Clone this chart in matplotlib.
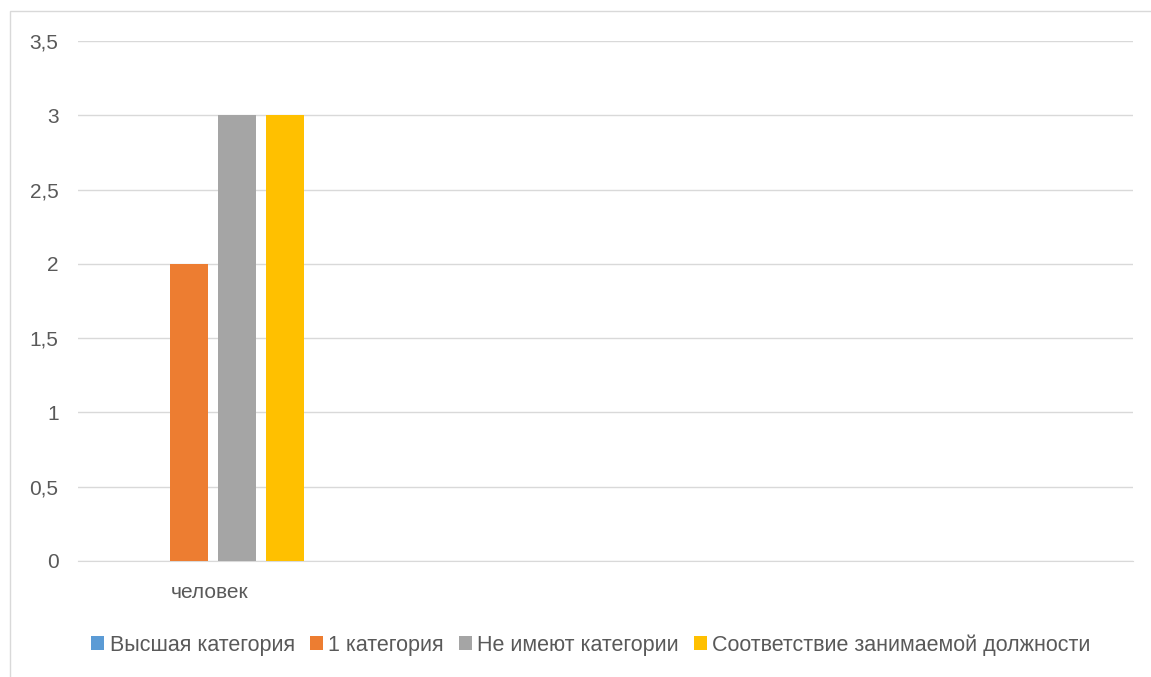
import numpy as np
import matplotlib.pyplot as plt
from matplotlib.patches import Rectangle

# данные
categories = ["человек", "", "", ""]
series_names = ["Высшая категория", "1 категория", "Не имеют категории",
                "Соответствие занимаемой должности"]
values_vysshaya = [0, 0, 0, 0]
values_1kat = [2, 0, 0, 0]
values_net = [3, 0, 0, 0]
values_sootv = [3, 0, 0, 0]
colors = ["#5b9bd5", "#ed7d31", "#a5a5a5", "#ffc000"]
yticks = [0, 0.5, 1, 1.5, 2, 2.5, 3, 3.5]
ytick_labels = ["0", "0,5", "1", "1,5", "2", "2,5", "3", "3,5"]

plt.rcParams['font.family'] = ['Liberation Sans', 'DejaVu Sans']

fig = plt.figure(figsize=(11.51, 6.77), dpi=100)
ax = fig.add_axes([78/1151, 1 - 561/677, (1133-78)/1151, (561-41)/677])

# рамка диаграммы
fig.patches.append(Rectangle((10/1151, -0.05), 1.2, 1 - 11/677 + 0.05,
                             transform=fig.transFigure, fill=False,
                             edgecolor="#d9d9d9", linewidth=1))

x = np.arange(len(categories))
step = 0.182
width = 0.144
all_vals = [values_vysshaya, values_1kat, values_net, values_sootv]
for k, (vals, name, c) in enumerate(zip(all_vals, series_names, colors)):
    ax.bar(x + 0.01 + (k - 1.5) * step, vals, width=width, color=c, label=name, zorder=3)

ax.set_xlim(-0.5, len(categories) - 0.5)
ax.set_ylim(0, 3.5)
ax.set_yticks(yticks)
ax.set_yticklabels(ytick_labels)
ax.set_xticks(x)
ax.set_xticklabels(categories)
ax.grid(axis='y', color='#d9d9d9', linewidth=1, zorder=0)
for s in ['top', 'right', 'left']:
    ax.spines[s].set_visible(False)
ax.spines['bottom'].set_color('#d9d9d9')
ax.tick_params(axis='both', length=0, labelsize=15, colors='#595959')
ax.tick_params(axis='y', pad=14)
ax.tick_params(axis='x', pad=16)

leg = fig.legend(loc='center', bbox_to_anchor=(591/1151, 1 - 645/677), ncol=4,
                 frameon=False, fontsize=15.5, handlelength=0.6, handleheight=0.6,
                 handletextpad=0.25, columnspacing=0.7)
for t in leg.get_texts():
    t.set_color('#595959')

fig.savefig("out.png", dpi=100)
